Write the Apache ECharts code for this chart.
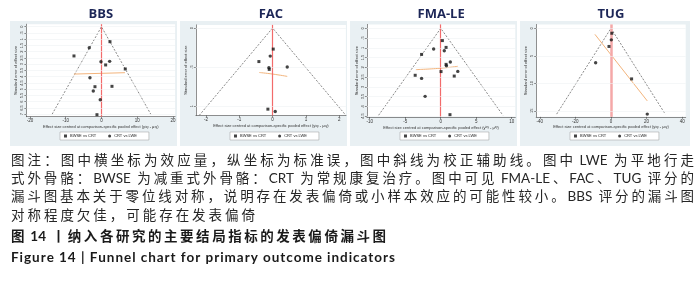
<!DOCTYPE html>
<html><head><meta charset="utf-8">
<script src="https://cdn.jsdelivr.net/npm/echarts@6/dist/echarts.min.js"></script>
<style>html,body{margin:0;padding:0;background:#fff;}#c{width:700px;height:298px;}</style>
</head><body><div id="c"></div>
<script>
// ---------------- data ----------------
const panelTitles = ['BBS', 'FAC', 'FMA-LE', 'TUG'];
const comparisonNames = ['BWSE vs CRT', 'CRT vs LWE'];

const bbsEffect = [2.38, -3.41, -7.69, -0.14, 1.17, 2.29, 6.66, -3.22, -1.82, -2.29, 2.94, -0.34, -1.26];
const bbsSE     = [1.20, 1.68, 2.34, 2.80, 3.06, 2.77, 3.38, 4.08, 4.80, 5.14, 4.77, 5.84, 7.04];
const bbsComp   = [0, 1, 0, 1, 0, 1, 0, 1, 0, 1, 0, 1, 0];
const bbsFunnel = [[-13.8, 7.0], [0, 0], [13.8, 7.0]];
const bbsAdjusted = [[-7.7, 3.79], [6.57, 3.68]];
const bbsXTicks = [-20, -10, 0, 10, 20];
const bbsYTicks = [0, 0.5, 1, 1.5, 2, 2.5, 3, 3.5, 4, 4.5, 5, 5.5, 6, 6.5, 7];

const facEffect = [0.02, -0.07, -0.41, -0.11, -0.10, 0.44, -0.14, 0.08];
const facSE     = [0.27, 0.36, 0.43, 0.51, 0.53, 0.50, 1.04, 1.07];
const facComp   = [0, 1, 0, 1, 0, 1, 0, 1];
const facFunnel = [[-2.2, 1.12], [0, 0], [2.2, 1.12]];
const facAdjusted = [[-0.40, 0.57], [0.0, 0.59], [0.44, 0.62]];
const facXTicks = [-2, -1, 0, 1, 2];
const facYTicks = [0, 0.5, 1];

const fmaEffect = [0.23, -1.0, 0.75, 0.5, -2.7, 1.35, 0.75, 0.8, 0.04, 2.4, -3.6, -2.7, 1.9, -2.2, 1.3];
const fmaSE     = [0.63, 1.06, 0.98, 1.15, 1.34, 1.73, 1.85, 1.92, 2.22, 2.21, 2.41, 2.57, 2.45, 3.49, 4.43];
const fmaComp   = [0, 1, 0, 1, 0, 1, 0, 1, 0, 1, 0, 1, 0, 1, 0];
const fmaFunnel = [[-8.75, 4.46], [0, 0], [8.75, 4.46]];
const fmaAdjusted = [[-3.5, 2.12], [-0.1, 2.05], [2.4, 1.95]];
const fmaXTicks = [-10, -5, 0, 5, 10];
const fmaYTicks = [0, 0.5, 1, 1.5, 2, 2.5, 3, 3.5, 4, 4.5];

const tugEffect = [0.5, 0.2, -1.1, -8.6, 11.6, 20.4];
const tugSE     = [0.9, 2.1, 3.3, 6.25, 9.2, 15.6];
const tugComp   = [0, 1, 0, 1, 0, 1];
const tugFunnel = [[-30.5, 15.6], [0, 0], [30.5, 15.6]];
const tugAdjusted = [[-9, 1.1], [20.4, 13.2]];
const tugXTicks = [-40, -20, 0, 20, 40];
const tugYTicks = [0, 5, 10, 15];

const yTitle = 'Standard error of effect size';
const xTitle = 'Effect size centred at comparison-specific pooled effect (y{s|ixy} - μ{s|xy})';

const captionLines = [
  '图注：图中横坐标为效应量，纵坐标为标准误，图中斜线为校正辅助线。图中 LWE 为平地行走',
  '式外骨骼：BWSE 为减重式外骨骼：CRT 为常规康复治疗。图中可见 FMA-LE、FAC、TUG 评分的',
  '漏斗图基本关于零位线对称，说明存在发表偏倚或小样本效应的可能性较小。BBS 评分的漏斗图',
  '对称程度欠佳，可能存在发表偏倚',
  '图 14 丨纳入各研究的主要结局指标的发表偏倚漏斗图',
  'Figure 14 | Funnel chart for primary outcome indicators'
];

// ---------------- layout ----------------
const panels = [
  {effect: bbsEffect, se: bbsSE, comp: bbsComp, funnel: bbsFunnel, adjusted: bbsAdjusted, xTicks: bbsXTicks, yTicks: bbsYTicks,
   bg: [10, 177], grid: {left: 26.4, top: 24.2, width: 148.7, height: 92.5}, x: [-21, 20.6], y: [-0.2, 7.2], legendLeft: 60, redW: 1.2, redC: '#f26b6b', smooth: false},
  {effect: facEffect, se: facSE, comp: facComp, funnel: facFunnel, adjusted: facAdjusted, xTicks: facXTicks, yTicks: facYTicks,
   bg: [180, 347], grid: {left: 195.9, top: 24.9, width: 150, height: 90.5}, x: [-2.3, 2.2], y: [-0.04, 1.12], legendLeft: 230, redW: 1.2, redC: '#f26b6b', smooth: true},
  {effect: fmaEffect, se: fmaSE, comp: fmaComp, funnel: fmaFunnel, adjusted: fmaAdjusted, xTicks: fmaXTicks, yTicks: fmaYTicks,
   bg: [350, 517], grid: {left: 366.9, top: 24.4, width: 148.4, height: 92.6}, x: [-10.4, 10.5], y: [-0.2, 4.55], legendLeft: 400, redW: 1.2, redC: '#f26b6b', smooth: true},
  {effect: tugEffect, se: tugSE, comp: tugComp, funnel: tugFunnel, adjusted: tugAdjusted, xTicks: tugXTicks, yTicks: tugYTicks,
   bg: [520, 690], grid: {left: 536.2, top: 24.45, width: 149.5, height: 92.4}, x: [-42, 42], y: [-0.7, 16.1], legendLeft: 570, redW: 2.5, redC: '#f5a8a8', smooth: false}
];

const fmt = v => String(v).replace(/^0\./, '.').replace(/^-0\./, '-.');
const axisFont = 'Liberation Sans';

const grids = [], xAxes = [], yAxes = [], legends = [], series = [], graphics = [];

panels.forEach((p, i) => {
  graphics.push({type: 'rect', z: -100, shape: {x: p.bg[0], y: 21, width: p.bg[1] - p.bg[0], height: 125}, style: {fill: '#e9f0f3'}});
  graphics.push({type: 'text', z: 10, x: (p.grid.left + p.grid.width / 2), y: 14,
    style: {text: panelTitles[i], fill: '#1c2657', font: 'bold 13px "Open Sans", sans-serif', textAlign: 'center', textVerticalAlign: 'middle'}});
  grids.push(Object.assign({show: true, backgroundColor: '#ffffff', borderWidth: 0}, p.grid));
  xAxes.push({
    gridIndex: i, type: 'value', min: p.x[0], max: p.x[1],
    axisLine: {show: true, onZero: false, lineStyle: {color: '#444', width: 0.6}},
    axisTick: {show: true, length: 2, customValues: p.xTicks, lineStyle: {color: '#444', width: 0.6}},
    axisLabel: {customValues: p.xTicks, fontSize: 4.5, color: '#333', margin: 2, fontFamily: axisFont, formatter: fmt},
    splitLine: {show: false},
    name: xTitle, nameLocation: 'middle', nameGap: 8.5,
    nameTextStyle: {fontSize: 4, color: '#333', fontFamily: axisFont, rich: {s: {fontSize: 2.8, fontFamily: axisFont, color: '#333'}}}
  });
  yAxes.push({
    gridIndex: i, type: 'value', inverse: true, min: p.y[0], max: p.y[1],
    axisLine: {show: true, onZero: false, lineStyle: {color: '#444', width: 0.6}},
    axisTick: {show: true, length: 2, customValues: p.yTicks, lineStyle: {color: '#444', width: 0.6}},
    axisLabel: {customValues: p.yTicks, fontSize: 4, color: '#333', margin: 2.5, rotate: 90, fontFamily: axisFont, formatter: fmt},
    splitLine: {show: false},
    name: yTitle, nameLocation: 'middle', nameGap: 8.5, nameRotate: 90,
    nameTextStyle: {fontSize: 4, color: '#333', fontFamily: axisFont}
  });
  legends.push({
    data: comparisonNames, left: p.legendLeft, top: 132, orient: 'horizontal',
    itemWidth: 3, itemHeight: 3, itemGap: 12, padding: [2, 12, 2, 4],
    backgroundColor: '#fff', borderColor: '#999', borderWidth: 0.5, borderRadius: 0, selectedMode: false,
    textStyle: {fontSize: 4, color: '#222', fontFamily: axisFont, padding: [0, 0, 0, -2]}
  });
  series.push({
    type: 'line', xAxisIndex: i, yAxisIndex: i, data: p.funnel, symbol: 'none', silent: true, z: 3,
    lineStyle: {color: '#555', width: 0.7, type: [2, 1.5]},
    markLine: {
      symbol: ['none', 'none'], silent: true, label: {show: false}, animation: false,
      data: [{xAxis: 0, lineStyle: {color: p.redC, width: p.redW, type: 'solid'}}]
        .concat(p.yTicks.map(v => ({yAxis: v, lineStyle: {color: '#eef2f4', width: 0.6, type: 'solid'}})))
    }
  });
  series.push({
    type: 'line', xAxisIndex: i, yAxisIndex: i, data: p.adjusted, symbol: 'none', silent: true, z: 4,
    smooth: p.smooth, lineStyle: {color: '#f3b47c', width: 1}
  });
  comparisonNames.forEach((nm, g) => {
    const pts = [];
    p.effect.forEach((x, k) => { if (p.comp[k] === g) pts.push([x, p.se[k]]); });
    series.push({
      type: 'scatter', name: nm, xAxisIndex: i, yAxisIndex: i, data: pts, z: 5,
      symbol: g === 0 ? 'rect' : 'circle', symbolSize: g === 0 ? 3 : 3.4,
      itemStyle: {color: '#151515'}
    });
  });
});

// ---------------- caption (justified lines) ----------------
const mctx = document.createElement('canvas').getContext('2d');
const bodyFont = '13.5px "Lato", "Noto Sans CJK SC"';
const boldFont = 'bold 13.5px "Lato", "Noto Sans CJK SC"';
const captionStyle = [
  {y: 160.5, x1: 694, font: bodyFont, fill: '#262626', split: false},
  {y: 179,   x1: 694, font: bodyFont, fill: '#262626', split: false},
  {y: 197,   x1: 694, font: bodyFont, fill: '#262626', split: false},
  {y: 215.5, x1: 255, font: bodyFont, fill: '#262626', split: false},
  {y: 237,   x1: 386, font: boldFont, fill: '#1a1a1a', split: false},
  {y: 258,   x1: 395, font: boldFont, fill: '#1a1a1a', split: true}
];
captionLines.forEach((line, li) => {
  const st = captionStyle[li];
  mctx.font = st.font;
  const toks = st.split ? Array.from(line) : line.match(/\s*[A-Za-z0-9\-]+\s*|./gu);
  const widths = toks.map(t => mctx.measureText(t).width);
  const total = widths.reduce((a, b) => a + b, 0);
  const x0 = 11;
  const gap = (st.x1 - x0 - total) / (toks.length - 1);
  let x = x0;
  toks.forEach((t, k) => {
    if (t.trim() !== '') {
      graphics.push({type: 'text', x: x, y: st.y, silent: true,
        style: {text: t, font: st.font, fill: st.fill, textAlign: 'left', textVerticalAlign: 'middle'}});
    }
    x += widths[k] + gap;
  });
});

const chart = echarts.init(document.getElementById('c'), null, {renderer: 'canvas'});
chart.setOption({
  animation: false,
  backgroundColor: '#ffffff',
  grid: grids, xAxis: xAxes, yAxis: yAxes, legend: legends, series: series,
  graphic: {elements: graphics}
});
</script></body></html>
